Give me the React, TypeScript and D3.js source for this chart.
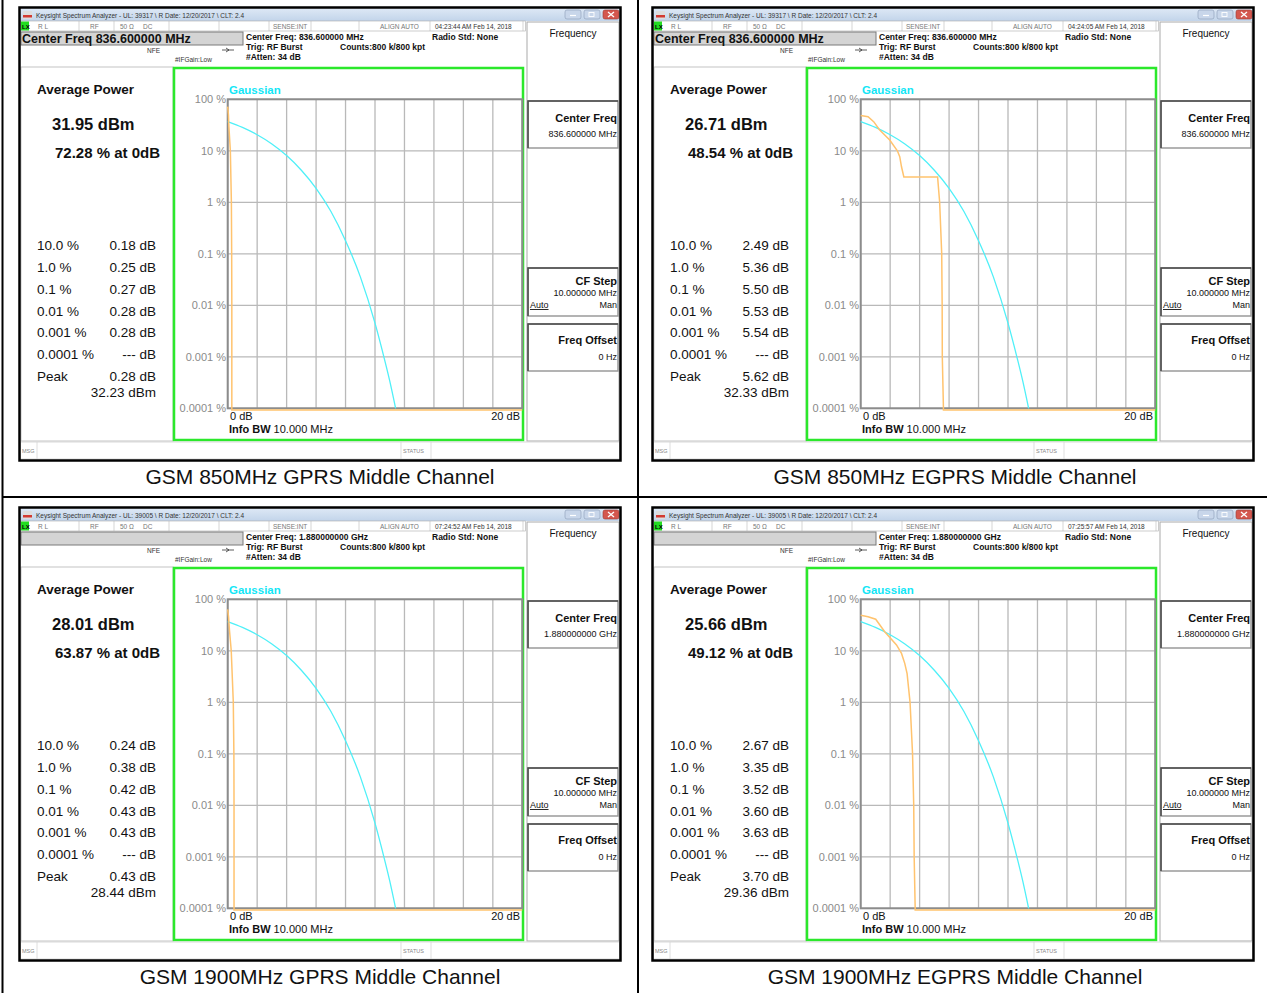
import React from 'react';
import * as d3 from 'd3';

// ---- data ----
const captions = [
  'GSM 850MHz GPRS Middle Channel',
  'GSM 850MHz EGPRS Middle Channel',
  'GSM 1900MHz GPRS Middle Channel',
  'GSM 1900MHz EGPRS Middle Channel',
];
const ulIds = ['39317', '39317', '39005', '39005'];
const timeStamps = [
  '04:23:44 AM Feb 14, 2018',
  '04:24:05 AM Feb 14, 2018',
  '07:24:52 AM Feb 14, 2018',
  '07:25:57 AM Feb 14, 2018',
];
const centerFreqs = ['836.600000 MHz', '836.600000 MHz', '1.880000000 GHz', '1.880000000 GHz'];
const showFreqBox = [true, true, false, false];
const avgPower = ['31.95', '26.71', '28.01', '25.66'];
const pctAtZero = ['72.28', '48.54', '63.87', '49.12'];
const probLabels = ['10.0 %', '1.0 %', '0.1 %', '0.01 %', '0.001 %', '0.0001 %'];
const probDb = [
  ['0.18', '0.25', '0.27', '0.28', '0.28', '---'],
  ['2.49', '5.36', '5.50', '5.53', '5.54', '---'],
  ['0.24', '0.38', '0.42', '0.43', '0.43', '---'],
  ['2.67', '3.35', '3.52', '3.60', '3.63', '---'],
];
const peakDb = ['0.28', '5.62', '0.43', '3.70'];
const peakDbm = ['32.23', '32.33', '28.44', '29.36'];

const yTicks = [100, 10, 1, 0.1, 0.01, 0.001, 0.0001];
const yTickLabels = ['100 %', '10 %', '1 %', '0.1 %', '0.01 %', '0.001 %', '0.0001 %'];

// Gaussian reference trace (cyan), same in every screen
const gaussDb = [0, 1, 2, 3, 4, 5, 6, 7, 8, 9, 10, 10.5, 11, 11.4];
const gaussPct = [36.8, 28.4, 20.5, 13.6, 8.1, 4.2, 1.87, 0.67, 0.18, 0.036, 0.0045, 0.0013, 0.00034, 0.0001];

// measured CCDF traces (orange); last points sit on the floor of the graticule
const measDb = [
  [0, 0.05, 0.08, 0.18, 0.25, 0.27, 0.28, 0.28, 0.28, 20],
  [0, 0.5, 0.88, 1.29, 1.97, 2.49, 2.65, 2.77, 2.93, 5.22, 5.36, 5.5, 5.53, 5.54, 5.62, 20],
  [0, 0.06, 0.12, 0.24, 0.38, 0.42, 0.43, 0.43, 0.43, 20],
  [0, 0.5, 1.02, 1.63, 2.43, 2.67, 2.77, 2.99, 3.15, 3.35, 3.52, 3.6, 3.63, 3.7, 20],
];
const measPct = [
  [72.28, 50, 30, 10, 1, 0.1, 0.01, 0.001, 0.000093, 0.000093],
  [48.54, 46, 36.8, 25.4, 16.2, 10, 7.7, 4.9, 3.1, 3.1, 1, 0.1, 0.01, 0.001, 0.000093, 0.000093],
  [63.87, 45, 25, 10, 1, 0.1, 0.01, 0.001, 0.000093, 0.000093],
  [49.12, 46, 41, 23.5, 13, 10, 8.9, 5.7, 3.6, 1, 0.1, 0.01, 0.001, 0.000093, 0.000093],
];

const panelPos = [[19, 7], [652, 7], [19, 507], [652, 507]];
const SANS = 'Liberation Sans, Arial, sans-serif';
const NARROW = 'Liberation Sans Narrow, Liberation Sans, Arial, sans-serif';

const Softkey = ({ y, h }: { y: number; h: number }) => (
  <g>
    <rect x={509} y={y} width={90} height={h} fill="#fff" stroke="#9a9a9a" strokeWidth={1.5} />
    <path d={`M509,${y + h} V${y} H599`} fill="none" stroke="#4a4a4a" strokeWidth={1.5} />
  </g>
);

const Panel = ({ i }: { i: number }) => {
  const [x0, y0] = panelPos[i];
  const xs = d3.scaleLinear().domain([0, 20]).range([208.7, 503.3]);
  const ys = d3.scaleLog().domain([1e-4, 100]).range([401.3, 92.3]);
  const gaussLine = d3
    .line<number>()
    .x((d, k) => xs(gaussDb[k]))
    .y((d) => ys(d))
    .curve(d3.curveMonotoneX);
  const measLine = d3
    .line<number>()
    .x((d, k) => xs(measDb[i][k]))
    .y((d) => ys(d));
  const xGrid = d3.range(0, 21, 2);
  const rowY = [243, 265, 287, 309, 330, 352];
  const statusSeps = [60, 95, 150, 200, 250, 292, 340, 411, 504];

  return (
    <g transform={`translate(${x0},${y0})`}>
      {/* window frame */}
      <rect x={0} y={0} width={602} height={454} fill="#fff" />
      {/* title bar */}
      <rect x={1.5} y={1.5} width={599} height={12.5} fill={`url(#tbar${i})`} />
      <rect x={4} y={4} width={9} height={8} fill="#ddd" />
      <rect x={4} y={8} width={9} height={2.5} fill="#d23a32" />
      <text x={17} y={10.5} fontSize={6.5} fontFamily={NARROW} fill="#333">
        {`Keysight Spectrum Analyzer - UL: ${ulIds[i]} \\ R Date: 12/20/2017 \\ CLT: 2.4`}
      </text>
      <rect x={546} y={3} width={16} height={9} rx={2} fill="#c8d6ea" stroke="#8a9bb5" strokeWidth={0.6} />
      <rect x={565} y={3} width={16} height={9} rx={2} fill="#c8d6ea" stroke="#8a9bb5" strokeWidth={0.6} />
      <rect x={584} y={3} width={16} height={9} rx={2} fill="#d4574e" stroke="#9c3b33" strokeWidth={0.6} />
      <line x1={551} x2={557} y1={8.5} y2={8.5} stroke="#fff" strokeWidth={1.2} />
      <rect x={570} y={5.5} width={5} height={4} fill="none" stroke="#fff" strokeWidth={0.9} />
      <path d="M589,5 L595,10 M595,5 L589,10" stroke="#fff" strokeWidth={1.3} />

      {/* status row */}
      <rect x={1.5} y={14} width={505} height={10} fill="#fff" stroke="#aaa" strokeWidth={0.6} />
      <rect x={2} y={14.5} width={8} height={9} fill="#22dd22" />
      <text x={3} y={21.5} fontSize={6} fontFamily={NARROW} fontWeight="bold" fill="#000">LX</text>
      {statusSeps.map((s) => (
        <line key={s} x1={s} x2={s} y1={14} y2={24} stroke="#bbb" strokeWidth={0.6} />
      ))}
      <g fontSize={6.5} fontFamily={NARROW} fill="#777">
        <text x={19} y={21.5}>R L</text>
        <text x={71} y={21.5}>RF</text>
        <text x={101} y={21.5}>50 Ω</text>
        <text x={124} y={21.5}>DC</text>
        <text x={254} y={21.5}>SENSE:INT</text>
        <text x={361} y={21.5}>ALIGN AUTO</text>
        <text x={416} y={21.5} fill="#333">{timeStamps[i]}</text>
      </g>

      {/* centre frequency entry box */}
      <rect x={2} y={25} width={222} height={13} fill="#d4d4d4" stroke="#7a7a7a" strokeWidth={1} />
      {showFreqBox[i] && (
        <text x={3} y={36.3} fontSize={12.5} fontWeight="bold" fontFamily={SANS} fill="#111">
          {`Center Freq ${centerFreqs[i]}`}
        </text>
      )}
      <text x={128} y={45.5} fontSize={6.5} fontFamily={NARROW} fill="#333">NFE</text>
      <path d="M203,43 H215 M207,41 L210,43 L207,45" stroke="#333" strokeWidth={0.8} fill="none" />
      <text x={156} y={54.5} fontSize={6.5} fontFamily={NARROW} fill="#333">#IFGain:Low</text>
      <g fontSize={8.5} fontWeight="bold" fontFamily={SANS} fill="#111">
        <text x={227} y={33}>{`Center Freq: ${centerFreqs[i]}`}</text>
        <text x={227} y={43}>Trig: RF Burst</text>
        <text x={227} y={53}>#Atten: 34 dB</text>
        <text x={321} y={43}>Counts:800 k/800 kpt</text>
        <text x={413} y={33}>Radio Std: None</text>
      </g>

      {/* soft key panel */}
      <rect x={508} y={15} width={92} height={419} fill="#fff" stroke="#aaa" strokeWidth={1} />
      <text x={554} y={29.5} fontSize={10} fontFamily={SANS} textAnchor="middle" fill="#111">Frequency</text>
      <Softkey y={94} h={47} />
      <Softkey y={261} h={48} />
      <Softkey y={317} h={47} />
      <g fontFamily={SANS} textAnchor="end" fill="#111">
        <text x={598} y={115} fontSize={11} fontWeight="bold">Center Freq</text>
        <text x={598} y={129.5} fontSize={9}>{centerFreqs[i]}</text>
        <text x={598} y={278} fontSize={11} fontWeight="bold">CF Step</text>
        <text x={598} y={289} fontSize={9}>10.000000 MHz</text>
        <text x={598} y={301} fontSize={9}>Man</text>
        <text x={598} y={337} fontSize={11} fontWeight="bold">Freq Offset</text>
        <text x={598} y={352.5} fontSize={9}>0 Hz</text>
      </g>
      <text x={511} y={301} fontSize={9} fontFamily={SANS} fill="#111" textDecoration="underline">Auto</text>

      {/* left results panel */}
      <rect x={2} y={60} width={152} height={374} fill="#fff" stroke="#c4c4c4" strokeWidth={1} />
      <g fontFamily={SANS} fill="#111">
        <text x={18} y={87} fontSize={13.5} fontWeight="bold">Average Power</text>
        <text x={33} y={123} fontSize={16.5} fontWeight="bold">{`${avgPower[i]} dBm`}</text>
        <text x={36} y={150.5} fontSize={15} fontWeight="bold">{`${pctAtZero[i]} % at 0dB`}</text>
        {probLabels.map((p, k) => (
          <g key={p}>
            <text x={18} y={rowY[k]} fontSize={13.5}>{p}</text>
            <text x={137} y={rowY[k]} fontSize={13.5} textAnchor="end">{`${probDb[i][k]} dB`}</text>
          </g>
        ))}
        <text x={18} y={374} fontSize={13.5}>Peak</text>
        <text x={137} y={374} fontSize={13.5} textAnchor="end">{`${peakDb[i]} dB`}</text>
        <text x={137} y={390} fontSize={13.5} textAnchor="end">{`${peakDbm[i]} dBm`}</text>
      </g>

      {/* graph window */}
      <rect x={155} y={61} width={349} height={372} fill="#fff" stroke="#2be82b" strokeWidth={2.5} />
      {xGrid.map((g) => (
        <line key={`x${g}`} x1={xs(g)} x2={xs(g)} y1={ys(100)} y2={ys(1e-4)} stroke="#b9b9b9" strokeWidth={1.3} />
      ))}
      {yTicks.map((t) => (
        <line key={`y${t}`} x1={xs(0)} x2={xs(20)} y1={ys(t)} y2={ys(t)} stroke="#b9b9b9" strokeWidth={1.3} />
      ))}
      <rect
        x={xs(0)}
        y={ys(100)}
        width={xs(20) - xs(0)}
        height={ys(1e-4) - ys(100)}
        fill="none"
        stroke="#8c8c8c"
        strokeWidth={2}
      />
      {yTicks.map((t, k) => (
        <text key={`l${t}`} x={207} y={ys(t) + 4} fontSize={11} fontFamily={SANS} fill="#8a8a8a" textAnchor="end">
          {yTickLabels[k]}
        </text>
      ))}
      <text x={210} y={87} fontSize={11.5} fontWeight="bold" fontFamily={SANS} fill="#12e6f6">Gaussian</text>
      <path d={gaussLine(gaussPct) || ''} fill="none" stroke="#4ff0f8" strokeWidth={1.3} />
      <path d={measLine(measPct[i]) || ''} fill="none" stroke="#ffc36e" strokeWidth={1.5} />
      <g fontFamily={SANS} fill="#111" fontSize={11}>
        <text x={211} y={413}>0 dB</text>
        <text x={501} y={413} textAnchor="end">20 dB</text>
        <text x={210} y={426}>
          <tspan fontWeight="bold">Info BW</tspan> 10.000 MHz
        </text>
      </g>

      {/* message / status bar */}
      <rect x={1.5} y={435} width={599} height={17} fill="#fff" stroke="#cfcfcf" strokeWidth={0.8} />
      <line x1={18} x2={18} y1={435} y2={452} stroke="#d6d6d6" strokeWidth={0.8} />
      <rect x={382} y={435} width={30} height={17} fill="#fff" stroke="#d6d6d6" strokeWidth={0.8} />
      <text x={3} y={446} fontSize={5.5} fontFamily={NARROW} fill="#888">MSG</text>
      <text x={384} y={446} fontSize={5.5} fontFamily={NARROW} fill="#888">STATUS</text>

      <rect x={0.5} y={0.5} width={601} height={453} fill="none" stroke="#000" strokeWidth={2.5} />
    </g>
  );
};

const App = () => {
  return (
    <svg
      width={1267}
      height={993}
      style={{ position: 'absolute', left: 0, top: 0, background: '#fff' }}
    >
      <defs>
        {captions.map((c, i) => (
          <linearGradient key={c} id={`tbar${i}`} x1="0" y1="0" x2="0" y2="1">
            <stop offset="0%" stopColor="#dde8f5" />
            <stop offset="100%" stopColor="#c2d4ea" />
          </linearGradient>
        ))}
      </defs>
      <rect x={0} y={0} width={1267} height={993} fill="#fff" />
      {/* table rules */}
      <line x1={2.5} x2={2.5} y1={0} y2={993} stroke="#000" strokeWidth={2} />
      <line x1={638} x2={638} y1={0} y2={993} stroke="#000" strokeWidth={2} />
      <line x1={2} x2={1267} y1={497} y2={497} stroke="#000" strokeWidth={2} />
      {captions.map((c, i) => (
        <g key={c}>
          <Panel i={i} />
          <text
            x={i % 2 === 0 ? 320 : 955}
            y={i < 2 ? 483.5 : 983.5}
            fontSize={21}
            fontFamily={SANS}
            textAnchor="middle"
            fill="#111"
          >
            {c}
          </text>
        </g>
      ))}
    </svg>
  );
};

export default App;
